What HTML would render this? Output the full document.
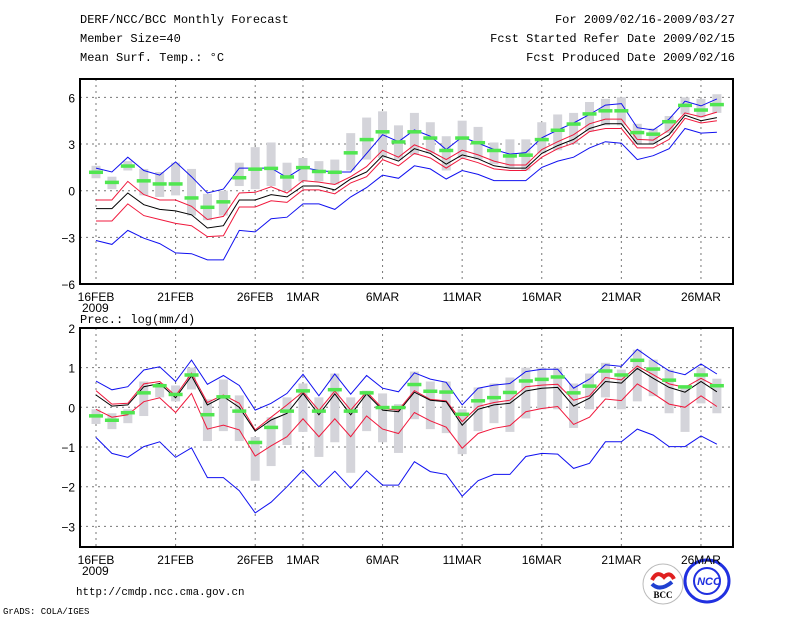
<!DOCTYPE html>
<html><head><meta charset="utf-8"><style>
body{margin:0;background:#fff;width:800px;height:618px;overflow:hidden}
svg text{font-family:"Liberation Mono","DejaVu Sans Mono",monospace;fill:#000}
svg text.s{font-family:"Liberation Sans","DejaVu Sans",sans-serif}
</style></head><body>
<svg id="chart" width="800" height="618" viewBox="0 0 800 618" xmlns="http://www.w3.org/2000/svg">
<rect width="800" height="618" fill="#fff"/>
<g font-size="12">
<text x="80" y="23">DERF/NCC/BCC Monthly Forecast</text>
<text x="80" y="42">Member Size=40</text>
<text x="80" y="61">Mean Surf. Temp.: °C</text>
<text x="735" y="23" text-anchor="end">For 2009/02/16-2009/03/27</text>
<text x="735" y="42" text-anchor="end">Fcst Started Refer Date 2009/02/15</text>
<text x="735" y="61" text-anchor="end">Fcst Produced Date 2009/02/16</text>
<text x="80" y="323">Prec.: log(mm/d)</text>
<text x="76" y="595" font-size="10.8">http://cmdp.ncc.cma.gov.cn</text>
<text x="3" y="614" font-size="9">GrADS: COLA/IGES</text>
</g>
<g>
<circle cx="663" cy="584" r="20" fill="#fff" stroke="#bbb"/>
<path d="M652 580 q5 -10 12 -3 q6 -6 10 2" stroke="#e02020" stroke-width="4" fill="none"/>
<path d="M652 584 q8 8 20 -2" stroke="#2040d0" stroke-width="4" fill="none"/>
<text x="663" y="598" font-size="9" text-anchor="middle" font-weight="bold" style="font-family:'Liberation Serif',serif">BCC</text>
</g>
<g>
<ellipse cx="707" cy="581" rx="22" ry="21" fill="none" stroke="#2030e0" stroke-width="3"/>
<circle cx="707" cy="581" r="13" fill="none" stroke="#2030e0" stroke-width="2"/>
<text x="709" y="585" font-size="11" text-anchor="middle" font-weight="bold" style="fill:#2030e0;font-family:'Liberation Sans',sans-serif;font-style:italic">NCC</text>
</g>
<g id="p1"></g>
<g id="p2"></g>
</svg>
<script>
const dayLabels = ["16FEB","21FEB","26FEB","1MAR","6MAR","11MAR","16MAR","21MAR","26MAR"];
const dayLabelIdx = [0,5,10,13,18,23,28,33,38];
const tTicks = [6,3,0,-3,-6];
const pTicks = [2,1,0,-1,-2,-3];
const tBlueHi = [1.45,1.2,2.15,1.3,1.0,1.85,0.9,-0.15,0.1,1.45,1.45,1.45,0.85,1.5,1.3,1.2,1.2,2.4,3.6,3.15,3.9,3.5,2.65,3.45,3.05,2.65,2.35,2.45,3.4,3.9,4.35,4.9,5.5,5.6,4.05,3.9,4.6,5.75,5.45,5.9];
const tRedHi = [-0.6,-0.6,0.6,-0.25,-0.6,-0.6,-1.0,-1.85,-1.65,-0.15,-0.1,0.25,-0.15,0.65,0.55,0.4,0.9,1.55,2.6,2.15,2.95,2.55,2.0,2.6,2.3,1.9,1.65,1.65,2.65,3.15,3.6,4.3,4.6,4.6,3.3,3.25,3.9,5.0,4.75,5.05];
const tMean = [-1.15,-1.15,-0.15,-0.9,-1.2,-1.3,-1.55,-2.4,-2.25,-0.6,-0.6,-0.25,-0.4,0.3,0.3,0.05,0.75,1.2,2.25,1.9,2.7,2.4,1.7,2.3,2.05,1.6,1.45,1.45,2.4,2.9,3.3,4.0,4.3,4.3,3.0,3.0,3.6,4.85,4.5,4.7];
const tRedLo = [-1.95,-1.95,-0.85,-1.6,-1.85,-2.1,-2.25,-2.95,-2.9,-1.05,-1.05,-0.65,-0.75,0.05,0.05,-0.2,0.5,0.9,2.0,1.6,2.4,2.1,1.45,2.1,1.8,1.4,1.3,1.3,2.15,2.7,3.05,3.8,4.0,4.0,2.75,2.75,3.3,4.65,4.35,4.5];
const tBlueLo = [-3.2,-3.45,-2.55,-3.05,-3.4,-4.0,-4.05,-4.45,-4.45,-2.55,-2.65,-1.8,-1.7,-0.85,-0.85,-1.2,-0.4,0.2,1.0,0.8,1.6,1.4,0.75,1.3,1.05,0.65,0.65,0.65,1.5,1.9,2.15,2.75,3.15,3.05,2.0,2.25,2.7,4.0,3.7,3.75];
const tGreen = [1.2,0.55,1.6,0.65,0.45,0.45,-0.45,-1.05,-0.7,0.85,1.4,1.45,0.9,1.5,1.25,1.2,2.45,3.3,3.8,3.15,3.8,3.4,2.6,3.4,3.1,2.6,2.25,2.3,3.3,3.9,4.3,4.95,5.15,5.15,3.75,3.65,4.45,5.5,5.2,5.55];
const tGrayLo = [0.8,0.1,1.3,-0.3,-0.4,-0.3,-1.6,-1.9,-1.6,0.3,0.1,0.3,0.0,0.6,0.6,0.4,1.3,2.0,2.1,2.0,2.3,2.4,1.3,2.1,2.0,1.7,1.5,1.3,2.4,2.6,3.0,3.8,4.2,4.2,3.0,3.0,3.7,4.9,4.7,5.0];
const tGrayHi = [1.6,0.9,1.9,1.4,1.2,1.8,1.4,-0.2,0.0,1.8,2.8,3.1,1.8,2.1,1.9,2.0,3.7,4.7,5.1,4.2,5.0,4.4,3.5,4.5,4.1,3.1,3.3,3.3,4.4,4.9,5.0,5.7,5.9,6.0,4.3,4.0,4.8,6.0,5.9,6.2];
const pBlueHi = [0.66,0.44,0.52,0.94,1.02,0.65,1.19,0.58,0.8,0.55,-0.07,0.1,0.35,0.83,0.29,0.84,0.33,0.8,0.48,0.39,0.87,0.71,0.63,0.06,0.48,0.56,0.6,0.9,0.96,0.96,0.48,0.71,1.07,1.03,1.46,1.18,0.92,0.82,1.09,0.84];
const pRedHi = [0.42,0.08,0.1,0.59,0.65,0.29,0.86,0.12,0.31,0.1,-0.57,-0.25,0.06,0.39,-0.08,0.41,-0.07,0.39,-0.03,-0.07,0.42,0.2,0.16,-0.36,0.02,0.12,0.18,0.52,0.56,0.58,0.18,0.29,0.75,0.69,1.04,0.82,0.59,0.5,0.73,0.52];
const pMean = [0.31,0.03,0.06,0.52,0.6,0.24,0.79,0.06,0.27,0.0,-0.6,-0.32,-0.15,0.35,-0.19,0.34,-0.19,0.34,-0.07,-0.11,0.38,0.18,0.14,-0.45,-0.05,0.06,0.1,0.41,0.48,0.5,0.03,0.23,0.65,0.61,0.98,0.73,0.5,0.38,0.65,0.39];
const pRedLo = [-0.05,-0.25,-0.19,0.14,0.24,-0.13,0.35,-0.55,-0.45,-0.57,-1.23,-0.97,-0.74,-0.29,-0.74,-0.29,-0.74,-0.22,-0.55,-0.66,-0.13,-0.34,-0.5,-1.03,-0.66,-0.53,-0.46,-0.11,-0.03,0.02,-0.43,-0.25,0.21,0.17,0.59,0.35,0.08,0.0,0.29,0.02];
const pBlueLo = [-0.76,-1.16,-1.26,-0.99,-0.87,-1.26,-1.02,-1.77,-1.77,-2.1,-2.66,-2.39,-2.0,-1.58,-2.0,-1.61,-2.04,-1.6,-1.96,-1.96,-1.37,-1.62,-1.69,-2.24,-1.85,-1.69,-1.69,-1.24,-1.16,-1.18,-1.54,-1.41,-0.87,-0.87,-0.55,-0.7,-0.99,-0.99,-0.72,-0.93];
const pGreen = [-0.21,-0.32,-0.13,0.37,0.55,0.33,0.82,-0.18,0.27,-0.09,-0.88,-0.5,-0.09,0.42,-0.09,0.45,-0.09,0.37,0.0,0.0,0.58,0.41,0.39,-0.17,0.17,0.25,0.38,0.67,0.71,0.77,0.37,0.54,0.92,0.82,1.19,0.97,0.69,0.52,0.82,0.55];
const pGrayLo = [-0.42,-0.55,-0.4,-0.22,0.25,0.15,0.45,-0.85,-0.6,-0.85,-1.85,-1.48,-0.95,-0.62,-1.25,-0.88,-1.65,-0.6,-0.88,-1.15,-0.3,-0.55,-0.65,-1.18,-0.6,-0.4,-0.62,-0.28,-0.05,-0.05,-0.52,-0.05,0.25,-0.05,0.15,0.28,-0.15,-0.62,0.1,-0.15];
const pGrayHi = [-0.05,-0.15,-0.05,0.65,0.6,0.55,1.0,0.2,0.7,0.3,-0.75,-0.25,0.25,0.6,0.25,0.85,0.25,0.42,0.35,0.08,0.9,0.65,0.65,-0.05,0.5,0.6,0.75,1.0,1.0,1.0,0.6,0.85,1.12,0.95,1.45,1.2,0.95,0.55,1.0,0.72];

const NS="http://www.w3.org/2000/svg";
function mk(parent,tag,attrs){const e=document.createElementNS(NS,tag);for(const k in attrs)e.setAttribute(k,attrs[k]);parent.appendChild(e);return e;}
const xDay = d => 96 + d*15.92;

function panel(g, cfg){
  const y = v => cfg.y0 - v*cfg.ppu;
  const L=80,R=733;
  cfg.ticks.forEach(t=>{
    const yy=y(t);
    if(yy>cfg.top+1 && yy<cfg.bot-1){
      const gl=mk(g,'line',{x1:L,x2:R,y1:yy,y2:yy,stroke:'#777','stroke-dasharray':'2,4','stroke-width':1});
      
      
    }
    const tx=mk(g,'text',{x:L-5,y:yy+5,'text-anchor':'end','font-size':12,'class':'s'});
    tx.textContent = t<0 ? '\u2212'+Math.abs(t) : String(t);
    
    
  });
  dayLabelIdx.forEach((d,i)=>{
    const xx=xDay(d);
    const gl=mk(g,'line',{x1:xx,x2:xx,y1:cfg.top,y2:cfg.bot,stroke:'#777','stroke-dasharray':'2,4','stroke-width':1});
    
    
    const tx=mk(g,'text',{x:xx,y:cfg.bot+17,'text-anchor':'middle','font-size':12,'class':'s'});
    tx.textContent=dayLabels[i];
    
    
  });
  const yr=mk(g,'text',{x:82,y:cfg.bot+28,'font-size':12,'class':'s'});
  yr.textContent='2009';
  
  
  cfg.gLo.forEach((lo,d)=>{
    const hi=cfg.gHi[d];
    const r=mk(g,'rect',{x:xDay(d)-4.5,y:y(hi),width:9,height:Math.max(1,y(lo)-y(hi)),fill:'#d4d4da'});
    
    
  });
  const series=[[cfg.blueLo,'#1010f0','blue-lower-line'],[cfg.blueHi,'#1010f0','blue-upper-line'],[cfg.redLo,'#f0183c','red-lower-line'],[cfg.redHi,'#f0183c','red-upper-line'],[cfg.mean,'#000','ensemble-mean-line']];
  series.forEach(([arr,col,name])=>{
    const p=mk(g,'polyline',{points:arr.map((v,d)=>xDay(d).toFixed(1)+','+y(v).toFixed(1)).join(' '),fill:'none',stroke:col,'stroke-width':1});
    
    
  });
  cfg.green.forEach((v,d)=>{
    const r=mk(g,'rect',{x:xDay(d)-7,y:y(v)-1.5,width:14,height:3.5,fill:'#50e650'});
    
    
  });
  const fr=mk(g,'rect',{x:L,y:cfg.top,width:R-L,height:cfg.bot-cfg.top,fill:'none',stroke:'#000','stroke-width':2});
  
  
}
panel(document.getElementById('p1'),{y0:190.7,ppu:15.56,top:79,bot:284,ticks:tTicks,gLo:tGrayLo,gHi:tGrayHi,blueHi:tBlueHi,redHi:tRedHi,mean:tMean,redLo:tRedLo,blueLo:tBlueLo,green:tGreen});
panel(document.getElementById('p2'),{y0:407.3,ppu:39.7,top:328,bot:547,ticks:pTicks,gLo:pGrayLo,gHi:pGrayHi,blueHi:pBlueHi,redHi:pRedHi,mean:pMean,redLo:pRedLo,blueLo:pBlueLo,green:pGreen});
</script>
</body></html>
